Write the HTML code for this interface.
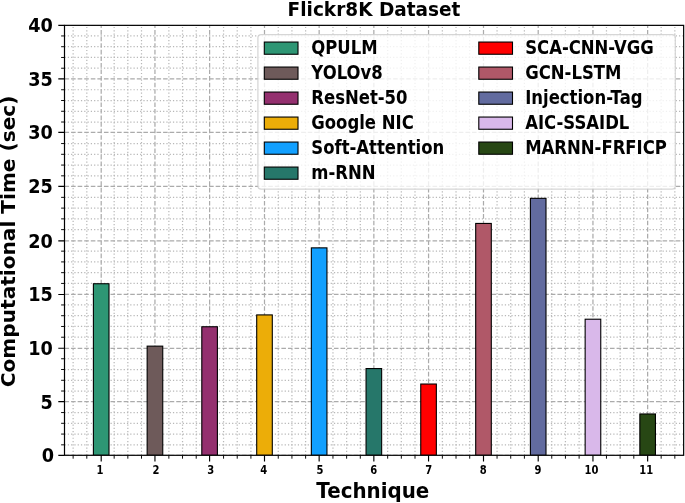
<!DOCTYPE html>
<html><head><meta charset="utf-8"><title>Flickr8K Dataset</title>
<style>html,body{margin:0;padding:0;background:#fff}svg{display:block;will-change:transform}text{font-family:"DejaVu Sans","Liberation Sans",sans-serif;font-weight:bold;fill:#000}</style></head><body>
<svg width="685" height="503" viewBox="0 0 685 503">
<rect width="685" height="503" fill="#fff"/>
<clipPath id="ax"><rect x="64.5" y="25.35" width="619.15" height="429.95"/></clipPath>
<g clip-path="url(#ax)">
<path d="M73.13 455.3V25.35M86.81 455.3V25.35M114.16 455.3V25.35M127.83 455.3V25.35M141.50 455.3V25.35M168.86 455.3V25.35M182.53 455.3V25.35M196.21 455.3V25.35M223.56 455.3V25.35M237.23 455.3V25.35M250.91 455.3V25.35M278.25 455.3V25.35M291.93 455.3V25.35M305.61 455.3V25.35M332.96 455.3V25.35M346.63 455.3V25.35M360.31 455.3V25.35M387.66 455.3V25.35M401.33 455.3V25.35M415.01 455.3V25.35M442.36 455.3V25.35M456.03 455.3V25.35M469.71 455.3V25.35M497.06 455.3V25.35M510.73 455.3V25.35M524.40 455.3V25.35M551.75 455.3V25.35M565.43 455.3V25.35M579.11 455.3V25.35M606.46 455.3V25.35M620.13 455.3V25.35M633.81 455.3V25.35M661.16 455.3V25.35M674.83 455.3V25.35" stroke="#b8b8b8" stroke-width="1.24" stroke-dasharray="1.24 2.046" fill="none"/>
<path d="M64.5 444.83H683.65M64.5 434.07H683.65M64.5 423.31H683.65M64.5 412.55H683.65M64.5 391.03H683.65M64.5 380.27H683.65M64.5 369.51H683.65M64.5 358.75H683.65M64.5 337.23H683.65M64.5 326.47H683.65M64.5 315.71H683.65M64.5 304.95H683.65M64.5 283.43H683.65M64.5 272.67H683.65M64.5 261.91H683.65M64.5 251.15H683.65M64.5 229.63H683.65M64.5 218.87H683.65M64.5 208.11H683.65M64.5 197.35H683.65M64.5 175.83H683.65M64.5 165.07H683.65M64.5 154.31H683.65M64.5 143.55H683.65M64.5 122.03H683.65M64.5 111.27H683.65M64.5 100.51H683.65M64.5 89.75H683.65M64.5 68.23H683.65M64.5 57.47H683.65M64.5 46.71H683.65M64.5 35.95H683.65" stroke="#b8b8b8" stroke-width="1.24" stroke-dasharray="1.24 2.046" fill="none"/>
<path d="M101.20 455.3V25.35M154.95 455.3V25.35M209.60 455.3V25.35M264.50 455.3V25.35M319.15 455.3V25.35M373.85 455.3V25.35M428.55 455.3V25.35M483.50 455.3V25.35M538.20 455.3V25.35M592.95 455.3V25.35M647.65 455.3V25.35M64.5 455.30H683.65M64.5 401.64H683.65M64.5 348.29H683.65M64.5 294.45H683.65M64.5 240.90H683.65M64.5 186.33H683.65M64.5 132.44H683.65M64.5 78.86H683.65M64.5 25.35H683.65" stroke="#ababab" stroke-width="1.24" stroke-dasharray="4.588 1.984" fill="none"/>
<rect x="93.40" y="283.74" width="15.6" height="171.56" fill="#2e9674" stroke="#000" stroke-width="1.1"/>
<rect x="147.15" y="346.14" width="15.6" height="109.16" fill="#6e5a5a" stroke="#000" stroke-width="1.1"/>
<rect x="201.80" y="326.75" width="15.6" height="128.55" fill="#94306f" stroke="#000" stroke-width="1.1"/>
<rect x="256.70" y="314.91" width="15.6" height="140.39" fill="#ecad08" stroke="#000" stroke-width="1.1"/>
<rect x="311.35" y="247.86" width="15.6" height="207.44" fill="#12a0ff" stroke="#000" stroke-width="1.1"/>
<rect x="366.05" y="368.56" width="15.6" height="86.74" fill="#26776a" stroke="#000" stroke-width="1.1"/>
<rect x="420.75" y="384.03" width="15.6" height="71.27" fill="#ff0000" stroke="#000" stroke-width="1.1"/>
<rect x="475.70" y="223.44" width="15.6" height="231.86" fill="#b05868" stroke="#000" stroke-width="1.1"/>
<rect x="530.40" y="198.34" width="15.6" height="256.96" fill="#626b9f" stroke="#000" stroke-width="1.1"/>
<rect x="585.15" y="319.22" width="15.6" height="136.08" fill="#d9b8ea" stroke="#000" stroke-width="1.1"/>
<rect x="639.85" y="413.98" width="15.6" height="41.32" fill="#274714" stroke="#000" stroke-width="1.1"/>
</g>
<path d="M101.20 455.3v6.2M154.95 455.3v6.2M209.60 455.3v6.2M264.50 455.3v6.2M319.15 455.3v6.2M373.85 455.3v6.2M428.55 455.3v6.2M483.50 455.3v6.2M538.20 455.3v6.2M592.95 455.3v6.2M647.65 455.3v6.2M64.5 455.30h-6.2M64.5 401.64h-6.2M64.5 348.29h-6.2M64.5 294.45h-6.2M64.5 240.90h-6.2M64.5 186.33h-6.2M64.5 132.44h-6.2M64.5 78.86h-6.2M64.5 25.35h-6.2" stroke="#000" stroke-width="1.15" fill="none"/>
<path d="M73.13 455.3v3.4M86.81 455.3v3.4M114.16 455.3v3.4M127.83 455.3v3.4M141.50 455.3v3.4M168.86 455.3v3.4M182.53 455.3v3.4M196.21 455.3v3.4M223.56 455.3v3.4M237.23 455.3v3.4M250.91 455.3v3.4M278.25 455.3v3.4M291.93 455.3v3.4M305.61 455.3v3.4M332.96 455.3v3.4M346.63 455.3v3.4M360.31 455.3v3.4M387.66 455.3v3.4M401.33 455.3v3.4M415.01 455.3v3.4M442.36 455.3v3.4M456.03 455.3v3.4M469.71 455.3v3.4M497.06 455.3v3.4M510.73 455.3v3.4M524.40 455.3v3.4M551.75 455.3v3.4M565.43 455.3v3.4M579.11 455.3v3.4M606.46 455.3v3.4M620.13 455.3v3.4M633.81 455.3v3.4M661.16 455.3v3.4M674.83 455.3v3.4M64.5 444.83h-3.4M64.5 434.07h-3.4M64.5 423.31h-3.4M64.5 412.55h-3.4M64.5 391.03h-3.4M64.5 380.27h-3.4M64.5 369.51h-3.4M64.5 358.75h-3.4M64.5 337.23h-3.4M64.5 326.47h-3.4M64.5 315.71h-3.4M64.5 304.95h-3.4M64.5 283.43h-3.4M64.5 272.67h-3.4M64.5 261.91h-3.4M64.5 251.15h-3.4M64.5 229.63h-3.4M64.5 218.87h-3.4M64.5 208.11h-3.4M64.5 197.35h-3.4M64.5 175.83h-3.4M64.5 165.07h-3.4M64.5 154.31h-3.4M64.5 143.55h-3.4M64.5 122.03h-3.4M64.5 111.27h-3.4M64.5 100.51h-3.4M64.5 89.75h-3.4M64.5 68.23h-3.4M64.5 57.47h-3.4M64.5 46.71h-3.4M64.5 35.95h-3.4" stroke="#000" stroke-width="0.95" fill="none"/>
<rect x="64.5" y="25.35" width="619.15" height="429.95" fill="none" stroke="#000" stroke-width="1.2"/>
<text transform="translate(99.96 473.80) scale(1 1.21)" font-size="10.0" text-anchor="middle">1</text>
<text transform="translate(155.96 473.80) scale(1 1.21)" font-size="10.0" text-anchor="middle">2</text>
<text transform="translate(210.75 473.80) scale(1 1.21)" font-size="10.0" text-anchor="middle">3</text>
<text transform="translate(263.75 473.80) scale(1 1.21)" font-size="10.0" text-anchor="middle">4</text>
<text transform="translate(319.94 473.80) scale(1 1.21)" font-size="10.0" text-anchor="middle">5</text>
<text transform="translate(373.75 473.80) scale(1 1.21)" font-size="10.0" text-anchor="middle">6</text>
<text transform="translate(428.71 473.80) scale(1 1.21)" font-size="10.0" text-anchor="middle">7</text>
<text transform="translate(483.28 473.80) scale(1 1.21)" font-size="10.0" text-anchor="middle">8</text>
<text transform="translate(537.87 473.80) scale(1 1.21)" font-size="10.0" text-anchor="middle">9</text>
<text transform="translate(591.41 473.80) scale(1 1.21)" font-size="10.0" text-anchor="middle">10</text>
<text transform="translate(646.14 473.80) scale(1 1.21)" font-size="10.0" text-anchor="middle">11</text>
<text transform="translate(54.10 462.20) scale(1 1.09)" font-size="17.7" text-anchor="end">0</text>
<text transform="translate(52.80 408.54) scale(1 1.09)" font-size="17.7" text-anchor="end">5</text>
<text transform="translate(52.80 355.19) scale(1 1.09)" font-size="17.7" text-anchor="end">10</text>
<text transform="translate(52.80 301.35) scale(1 1.09)" font-size="17.7" text-anchor="end">15</text>
<text transform="translate(52.80 247.80) scale(1 1.09)" font-size="17.7" text-anchor="end">20</text>
<text transform="translate(52.80 193.23) scale(1 1.09)" font-size="17.7" text-anchor="end">25</text>
<text transform="translate(52.80 139.34) scale(1 1.09)" font-size="17.7" text-anchor="end">30</text>
<text transform="translate(52.80 85.76) scale(1 1.09)" font-size="17.7" text-anchor="end">35</text>
<text transform="translate(52.80 32.25) scale(1 1.09)" font-size="17.7" text-anchor="end">40</text>
<text transform="translate(374.00 16.00) scale(1 1.07)" font-size="18.5" text-anchor="middle">Flickr8K Dataset</text>
<text transform="translate(372.80 497.80) scale(1 1.04)" font-size="19.85" text-anchor="middle">Technique</text>
<text transform="translate(15.00 241.40) rotate(-90) scale(1 1.0)" font-size="20.12" text-anchor="middle">Computational Time (sec)</text>
<rect x="257.9" y="34.6" width="417.4" height="154.5" rx="3.3" fill="#fff" fill-opacity="0.8" stroke="#ccc" stroke-opacity="0.8" stroke-width="1.25"/>
<rect x="264.3" y="42.05" width="33.7" height="12.2" fill="#2e9674" stroke="#000" stroke-width="1.1"/>
<text transform="translate(311.30 54.00) scale(1 1.16)" font-size="16.48" text-anchor="start">QPULM</text>
<rect x="264.3" y="67.05" width="33.7" height="12.2" fill="#6e5a5a" stroke="#000" stroke-width="1.1"/>
<text transform="translate(311.30 78.90) scale(1 1.16)" font-size="16.48" text-anchor="start">YOLOv8</text>
<rect x="264.3" y="92.05" width="33.7" height="12.2" fill="#94306f" stroke="#000" stroke-width="1.1"/>
<text transform="translate(311.30 103.80) scale(1 1.16)" font-size="16.48" text-anchor="start">ResNet-50</text>
<rect x="264.3" y="117.05" width="33.7" height="12.2" fill="#ecad08" stroke="#000" stroke-width="1.1"/>
<text transform="translate(311.30 128.70) scale(1 1.16)" font-size="16.48" text-anchor="start">Google NIC</text>
<rect x="264.3" y="142.05" width="33.7" height="12.2" fill="#12a0ff" stroke="#000" stroke-width="1.1"/>
<text transform="translate(311.30 153.60) scale(1 1.16)" font-size="16.48" text-anchor="start">Soft-Attention</text>
<rect x="264.3" y="167.05" width="33.7" height="12.2" fill="#26776a" stroke="#000" stroke-width="1.1"/>
<text transform="translate(311.30 178.50) scale(1 1.16)" font-size="16.48" text-anchor="start">m-RNN</text>
<rect x="478.8" y="42.05" width="33.7" height="12.2" fill="#ff0000" stroke="#000" stroke-width="1.1"/>
<text transform="translate(525.20 54.00) scale(1 1.16)" font-size="16.48" text-anchor="start">SCA-CNN-VGG</text>
<rect x="478.8" y="67.05" width="33.7" height="12.2" fill="#b05868" stroke="#000" stroke-width="1.1"/>
<text transform="translate(525.20 78.90) scale(1 1.16)" font-size="16.48" text-anchor="start">GCN-LSTM</text>
<rect x="478.8" y="92.05" width="33.7" height="12.2" fill="#626b9f" stroke="#000" stroke-width="1.1"/>
<text transform="translate(525.20 103.80) scale(1 1.16)" font-size="16.48" text-anchor="start">Injection-Tag</text>
<rect x="478.8" y="117.05" width="33.7" height="12.2" fill="#d9b8ea" stroke="#000" stroke-width="1.1"/>
<text transform="translate(525.20 128.70) scale(1 1.16)" font-size="16.48" text-anchor="start">AIC-SSAIDL</text>
<rect x="478.8" y="142.05" width="33.7" height="12.2" fill="#274714" stroke="#000" stroke-width="1.1"/>
<text transform="translate(525.20 153.60) scale(1 1.16)" font-size="16.48" text-anchor="start">MARNN-FRFICP</text>
</svg></body></html>
